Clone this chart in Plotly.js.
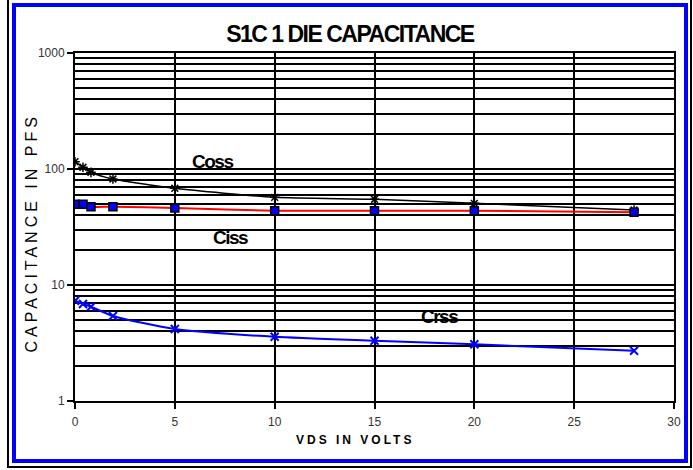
<!DOCTYPE html>
<html>
<head>
<meta charset="utf-8">
<script src="https://cdn.plot.ly/plotly-3.0.1.min.js"></script>
<style>
  html, body { margin: 0; padding: 0; background: #fff; }
  #wrap { position: relative; width: 693px; height: 470px; overflow: hidden; }
  #outer { position: absolute; left: 7px; top: -5px; width: 681px; height: 471px;
           border-left: 2px solid #000; border-right: 2px solid #000; border-bottom: 2px solid #000; }
  #inner { position: absolute; left: 12px; top: 3px; width: 668px; height: 452px;
           border: 4px solid #0000ff; }
  #chart { position: absolute; left: 0; top: 0; width: 693px; height: 470px; }
  .gtitle { letter-spacing: -1.5px; }
</style>
</head>
<body>
<div id="wrap">
  <div id="outer"></div>
  <div id="inner"></div>
  <div id="chart"></div>
</div>
<script>
// Drain-source voltage (V)
const vds = [0, 0.4, 0.8, 1.9, 5, 10, 15, 20, 28];
// Capacitances (pF)
const coss = [115.6, 103.5, 93.6, 82, 68.2, 57, 54.8, 50.6, 44.3];
const ciss = [49.6, 49.6, 47.3, 47.3, 46.1, 43.7, 43.7, 43.7, 42.3];
const crss = [7.32, 6.86, 6.5, 5.41, 4.17, 3.58, 3.31, 3.08, 2.71];
const seriesNames = ["Coss", "Ciss", "Crss"];
const chartTitle = "S1C 1 DIE CAPACITANCE";
const xTitle = "VDS IN VOLTS";
const yTitle = "CAPACITANCE IN PFS";

const traces = [
  { x: vds, y: coss, name: seriesNames[0], mode: "lines+markers",
    line: { color: "#000000", width: 1.5, shape: "spline", smoothing: 0.6 },
    marker: { symbol: "asterisk-open", size: 8, color: "#000000", line: { color: "#000000", width: 1.5 } } },
  { x: vds, y: ciss, name: seriesNames[1], mode: "lines+markers",
    line: { color: "#ff0000", width: 2, shape: "spline", smoothing: 0.6 },
    marker: { symbol: "square", size: 8, color: "#0000ff", line: { color: "#000000", width: 1.5 } } },
  { x: vds, y: crss, name: seriesNames[2], mode: "lines+markers",
    line: { color: "#0000ff", width: 2, shape: "spline", smoothing: 0.6 },
    marker: { symbol: "x-thin-open", size: 8, color: "#0000ff", line: { color: "#0000ff", width: 2 } } }
];

const FONT = "Liberation Sans, Arial, sans-serif";
const tickFont = { family: FONT, size: 12, color: "#333" };

const layout = {
  width: 693, height: 470,
  paper_bgcolor: "rgba(0,0,0,0)", plot_bgcolor: "rgba(0,0,0,0)",
  margin: { l: 75, r: 19, t: 53, b: 69 },
  showlegend: false,
  title: { text: chartTitle, x: 0.505, xanchor: "center", y: 0.927, yanchor: "middle",
           font: { family: FONT, size: 23, color: "#000", weight: "bold" } },
  xaxis: {
    range: [0, 30], dtick: 5, tick0: 0,
    showgrid: true, gridcolor: "#000", gridwidth: 2,
    zeroline: false, showline: true, linecolor: "#000", linewidth: 2, mirror: true,
    ticks: "outside", ticklen: 6, tickwidth: 2, tickcolor: "#000",
    ticklabelstandoff: 3,
    tickfont: tickFont
  },
  yaxis: {
    type: "log", range: [0, 3], dtick: 1,
    showgrid: true, gridcolor: "#000", gridwidth: 2,
    zeroline: false, showline: true, linecolor: "#000", linewidth: 2, mirror: true,
    ticks: "outside", ticklen: 6, tickwidth: 2, tickcolor: "#000",
    tickfont: tickFont,
    minor: { dtick: "D1", showgrid: true, gridcolor: "#000", gridwidth: 2, ticks: "" }
  },
  annotations: [
    { x: 6.86, y: Math.log10(115.6), text: seriesNames[0], showarrow: false,
      font: { family: FONT, size: 19, color: "#000", weight: "bold" } },
    { x: 7.76, y: Math.log10(25.6), text: seriesNames[1], showarrow: false,
      font: { family: FONT, size: 19, color: "#000", weight: "bold" } },
    { x: 18.23, y: Math.log10(5.4), text: seriesNames[2], showarrow: false,
      font: { family: FONT, size: 19, color: "#000", weight: "bold" } },
    { xref: "paper", yref: "paper", x: -0.0718, y: 0.484, xanchor: "center", yanchor: "middle",
      textangle: -90, text: yTitle, showarrow: false,
      font: { family: FONT, size: 16, color: "#000" } },
    { xref: "paper", yref: "paper", x: 0.467, y: -0.112, xanchor: "center", yanchor: "middle",
      text: xTitle, showarrow: false,
      font: { family: FONT, size: 12, color: "#000", weight: "bold" } }
  ]
};

const spacing = { 0: "-1.5px", 1: "-1.5px", 2: "-1.5px", 3: "4px", 4: "3px" };

Plotly.newPlot("chart", traces, layout, { displayModeBar: false, staticPlot: true }).then(function (gd) {
  Object.keys(spacing).forEach(function (i) {
    const t = gd.querySelector('g.annotation[data-index="' + i + '"] text');
    if (t) { t.style.letterSpacing = spacing[i]; }
  });
});
</script>
</body>
</html>
